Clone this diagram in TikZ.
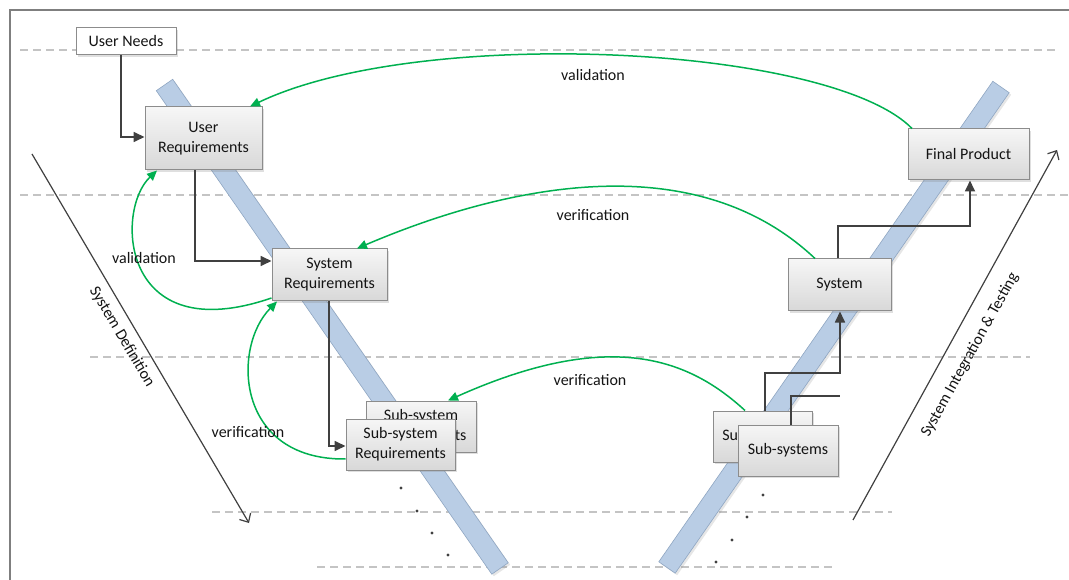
\documentclass[tikz,border=0pt]{standalone}
\usepackage{fontspec}
\setmainfont{Carlito}
\usetikzlibrary{arrows.meta,shadows}
\definecolor{grn}{RGB}{0,176,80}
\definecolor{dk}{HTML}{404040}
\definecolor{boxc}{HTML}{8C8C8C}
\definecolor{topc}{HTML}{F6F6F6}
\definecolor{botc}{HTML}{D8D8D8}
\definecolor{barc}{HTML}{B9CDE5}
\definecolor{bard}{HTML}{8FA6C2}
\definecolor{dashc}{HTML}{C4C4C4}
\definecolor{framec}{HTML}{7F7F7F}
\definecolor{txt}{HTML}{141414}
\pgfdeclarelayer{bg}
\pgfsetlayers{bg,main}
\begin{document}
\begin{tikzpicture}[x=1pt,y=-1pt,
  font=\fontsize{16}{20}\selectfont, text=txt,
  box/.style={draw=boxc, line width=1pt, top color=topc, bottom color=botc,
    inner sep=0pt, align=center,
    drop shadow={shadow xshift=2pt, shadow yshift=-2pt, opacity=0.25}},
  wbox/.style={draw=boxc, line width=1pt, fill=white, inner sep=0pt, align=center,
    drop shadow={shadow xshift=2pt, shadow yshift=-2pt, opacity=0.25}},
  darr/.style={draw=dk, line width=1.7pt, -{Triangle[length=11pt,width=10pt]}},
  dline/.style={draw=dk, line width=1.7pt},
  garr/.style={draw=grn, line width=1.5pt, -{Triangle[length=10pt,width=9pt]}},
  dashln/.style={draw=dashc, line width=1.1pt, dash pattern=on 8pt off 5pt},
  bigarr/.style={draw=dk, line width=1.2pt, -{Straight Barb[length=7pt,width=13pt]}},
  bar/.style={fill=barc, draw=bard, line width=0.6pt,
    drop shadow={shadow xshift=2pt, shadow yshift=-2pt, opacity=0.2}},
  lbl/.style={inner sep=0pt},
  dotm/.style={fill=dk, draw=none}
]
\useasboundingbox (0,0) rectangle (1069,580);

\begin{pgfonlayer}{bg}
  % frame
  \draw[framec, line width=1.5pt] (10,580) -- (10,10) -- (1069,10);
  % dashed level lines
  \draw[dashln] (20,50) -- (1057,50);
  \draw[dashln] (20,195) -- (1069,195);
  \draw[dashln] (90,357) -- (1030,357);
  \draw[dashln] (212,512) -- (892,512);
  \draw[dashln] (317,567) -- (834,567);
  % blue bars
  \path[bar] (156.3,90.7) -- (172.7,79.3) -- (508.2,562.8) -- (491.8,574.2) -- cycle;
  \path[bar] (658.8,561.8) -- (992.8,81.3) -- (1009.2,92.7) -- (675.2,573.2) -- cycle;
\end{pgfonlayer}

% nodes
\node[wbox, minimum width=100pt, minimum height=27pt] (un) at (126,41.5) {User Needs};
\node[box, minimum width=117pt, minimum height=63pt] (ur) at (203.5,138.5) {User\\Requirements};
\node[box, minimum width=115pt, minimum height=52pt] (sr) at (329.5,275) {System\\Requirements};
\node[box, minimum width=110pt, minimum height=51pt] (ssb) at (421,426.5) {Sub-system\\Requirements};
\node[box, minimum width=109pt, minimum height=51pt] (ssf) at (400.5,444.5) {Sub-system\\Requirements};
\node[box, minimum width=99pt, minimum height=51pt] (sbb) at (762.5,436.5) {Sub-systems};
\node[box, minimum width=100pt, minimum height=51pt] (sbf) at (788,450.5) {Sub-systems};
\node[box, minimum width=103pt, minimum height=52pt] (sys) at (839.5,285) {System};
\node[box, minimum width=121pt, minimum height=51pt] (fp) at (968.5,154.5) {Final Product};

% dark connectors
\draw[darr] (un.south -| 121,0) |- (ur.west |- 0,137);
\draw[darr] (ur.south -| 195,0) |- (sr.west |- 0,261);
\draw[darr] (sr.south -| 329,0) |- (ssf.west |- 0,446);
\draw[darr] (sbb.north -| 765,0) |- (840,373) -- (sys.south -| 840,0);
\draw[dline] (sbf.north -| 791,0) |- (840,396);
\draw[darr] (sys.north -| 838,0) |- (970,226) -- (fp.south -| 970,0);

% green connectors
\draw[garr] (fp.north -| 912,0) .. controls (830,45) and (420,25) .. (ur.north -| 250,0);
\draw[garr] (sys.north -| 815,0) .. controls (700,150) and (520,179) .. (sr.north -| 357,0);
\draw[garr] (sbb.north -| 745,0) .. controls (690,360) and (612,327) .. (ssb.north -| 448,0);
\draw[garr] (sr.west |- 0,298) .. controls (120,350) and (115,210) .. (ur.south -| 157,0);
\draw[garr] (ssf.west |- 0,459) .. controls (235,460) and (232,347) .. (sr.south -| 277,0);

% labels
\node[lbl] (l1) at (593,75) {validation};
\node[lbl] (l2) at (593,215) {verification};
\node[lbl] (l3) at (590,380) {verification};
\node[lbl] (l4) at (144,258) {validation};
\node[lbl] (l5) at (248,432) {verification};

% long phase arrows
\coordinate (sdA) at (32,154);
\coordinate (sdB) at (249,523);
\coordinate (siA) at (853,520);
\coordinate (siB) at (1057,150);
\draw[bigarr] (sdA) -- (sdB);
\draw[bigarr] (siA) -- (siB);
\node[lbl, rotate=-59.5] (sdl) at (122,337) {System Definition};
\node[lbl, rotate=61.1] (sil) at (970,355) {System Integration \& Testing};

% continuation dots
\foreach \p in {(401,488),(417,511),(432,533),(448,555),(763,495),(747,517),(732,540),(716,562)}
  \fill[dotm] \p circle (1.6pt);
\end{tikzpicture}
\end{document}
